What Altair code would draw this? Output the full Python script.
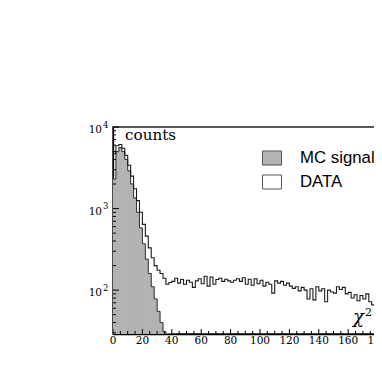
import altair as alt
import pandas as pd

bin_width = 2
mc_values = [2300, 5000, 5600, 5000, 4000, 2900, 2000, 1350, 900, 580,
             370, 240, 160, 110, 78, 55, 40, 31, 22, 12]
data_values = [4700, 5900, 6100, 5500, 4500, 3400, 2500, 1750, 1250, 900,
               640, 460, 330, 250, 200, 175, 160, 140, 118, 124,
               128, 140, 122, 135, 118, 132, 125, 108, 130, 138,
               120, 148, 112, 145, 118, 135, 140, 128, 136, 130,
               125, 132, 138, 128, 142, 118, 136, 115, 138, 120,
               132, 112, 125, 118, 92, 130, 122, 128, 115, 122,
               112, 105, 110, 98, 108, 100, 78, 104, 76, 110,
               98, 104, 72, 100, 95, 92, 110, 102, 108, 90,
               94, 80, 88, 74, 86, 78, 90, 72, 66, 84, 80, 86, 78]
series_names = ["MC signal", "DATA"]
series_fills = ["#b3b3b3", "#ffffff"]
x_major = list(range(0, 201, 20))
x_minor = [v for v in range(0, 201, 5) if v % 20 != 0]
y_major = [100, 1000, 10000]
y_minor = [m * d for d in (10, 100, 1000) for m in range(2, 10) if m * d >= 29]
y_exponents = ["2", "3", "4"]

W, H = 263, 207
X_MAX = W / 1.47
xscale = alt.Scale(domain=[0, X_MAX], nice=False, zero=False)
yscale = alt.Scale(type="log", domain=[29, 10000], nice=False)


def step_frame(values):
    xs = [i * bin_width for i in range(len(values))] + [len(values) * bin_width]
    ys = list(values) + [values[-1]]
    return pd.DataFrame({"x": xs, "y": ys})


mc_bars_df = pd.DataFrame({
    "x": [i * bin_width for i in range(len(mc_values))],
    "x2": [(i + 1) * bin_width for i in range(len(mc_values))],
    "y": mc_values,
})
mc_df = step_frame(mc_values)
data_df = step_frame(data_values)

mc_fill = alt.Chart(mc_bars_df).mark_bar(
    clip=True, fill="#b3b3b3", stroke="#b3b3b3", strokeWidth=0.8
).encode(
    x=alt.X("x:Q", scale=xscale,
            axis=alt.Axis(labels=False, ticks=False, grid=False, title=None,
                          domainColor="black", domainWidth=1.3)),
    x2="x2:Q",
    y=alt.Y("y:Q", scale=yscale,
            axis=alt.Axis(labels=False, ticks=False, grid=False, title=None,
                          domainColor="black", domainWidth=1.3)),
    y2=alt.value(H),
)

mc_line = alt.Chart(mc_df).mark_line(
    interpolate="step-after", clip=True, color="#333333", strokeWidth=1
).encode(x="x:Q", y="y:Q")

data_line = alt.Chart(data_df).mark_line(
    interpolate="step-after", clip=True, color="#1a1a1a", strokeWidth=1.1
).encode(x="x:Q", y="y:Q")

legend_df = pd.DataFrame({"series": series_names, "x": [-80, -80], "y": [100, 100]})
legend_layer = alt.Chart(legend_df).mark_square(clip=True).encode(
    x="x:Q", y="y:Q",
    fill=alt.Fill("series:N", scale=alt.Scale(domain=series_names, range=series_fills),
                  legend=alt.Legend(title=None, orient="none", legendX=149, legendY=21,
                                    symbolType="M-1,-0.74H1V0.74H-1Z", symbolSize=361,
                                    symbolStrokeColor="#555555", symbolStrokeWidth=1,
                                    symbolOpacity=1, labelFont="Liberation Sans",
                                    labelFontSize=16.8, labelColor="black",
                                    labelOffset=18, rowPadding=4, padding=0)),
)

xmaj_df = pd.DataFrame({"x": x_major, "lab": [str(v) for v in x_major]})
xmin_df = pd.DataFrame({"x": x_minor})
ymaj_df = pd.DataFrame({"y": y_major, "e": y_exponents})
ymin_df = pd.DataFrame({"y": y_minor})

xmaj_ticks = alt.Chart(xmaj_df).mark_rule(color="black", strokeWidth=1, clip=True).encode(
    x="x:Q", y=alt.value(H), y2=alt.value(H - 5))
xmin_ticks = alt.Chart(xmin_df).mark_rule(color="black", strokeWidth=1, clip=True).encode(
    x="x:Q", y=alt.value(H), y2=alt.value(H - 3))
ymaj_ticks = alt.Chart(ymaj_df).mark_rule(color="black", strokeWidth=1).encode(
    y="y:Q", x=alt.value(0), x2=alt.value(6))
ymin_ticks = alt.Chart(ymin_df).mark_rule(color="black", strokeWidth=1).encode(
    y="y:Q", x=alt.value(0), x2=alt.value(3))

xlabels = alt.Chart(xmaj_df).mark_text(
    font="DejaVu Serif", fontSize=10.5, align="center", baseline="top", color="black"
).encode(x="x:Q", y=alt.value(H + 2), text="lab:N")

ylab_base = alt.Chart(ymaj_df).mark_text(
    font="DejaVu Serif", fontSize=10.5, align="right", baseline="alphabetic", dy=6, color="black"
).encode(y="y:Q", x=alt.value(-11), text=alt.value("10"))
ylab_exp = alt.Chart(ymaj_df).mark_text(
    font="DejaVu Serif", fontSize=8.5, align="left", baseline="alphabetic", dy=0.5, color="black"
).encode(y="y:Q", x=alt.value(-10), text="e:N")

ann_df = pd.DataFrame({"t": ["counts"]})
counts_txt = alt.Chart(ann_df).mark_text(
    font="DejaVu Serif", fontSize=15.2, align="left", baseline="alphabetic", color="black"
).encode(x=alt.value(12), y=alt.value(12.5), text="t:N")
chi_txt = alt.Chart(pd.DataFrame({"t": ["χ"]})).mark_text(
    font="DejaVu Serif", fontSize=18, fontStyle="italic", align="left", baseline="alphabetic",
    color="black"
).encode(x=alt.value(240), y=alt.value(196), text="t:N")
chi_sup = alt.Chart(pd.DataFrame({"t": ["2"]})).mark_text(
    font="DejaVu Serif", fontSize=11, align="left", baseline="alphabetic", color="black"
).encode(x=alt.value(252), y=alt.value(189), text="t:N")

chart = alt.layer(
    mc_fill, mc_line, data_line, legend_layer, xmaj_ticks, xmin_ticks, ymaj_ticks, ymin_ticks,
    xlabels, ylab_base, ylab_exp, counts_txt, chi_txt, chi_sup
).properties(
    width=W, height=H,
    background="white",
    autosize=alt.AutoSizeParams(type="none"),
    padding={"left": 105, "top": 119, "right": -2, "bottom": 40},
).configure_view(stroke="#222222", strokeWidth=1.5)

chart.save("out.html", embed_options={"renderer": "svg", "actions": False})
